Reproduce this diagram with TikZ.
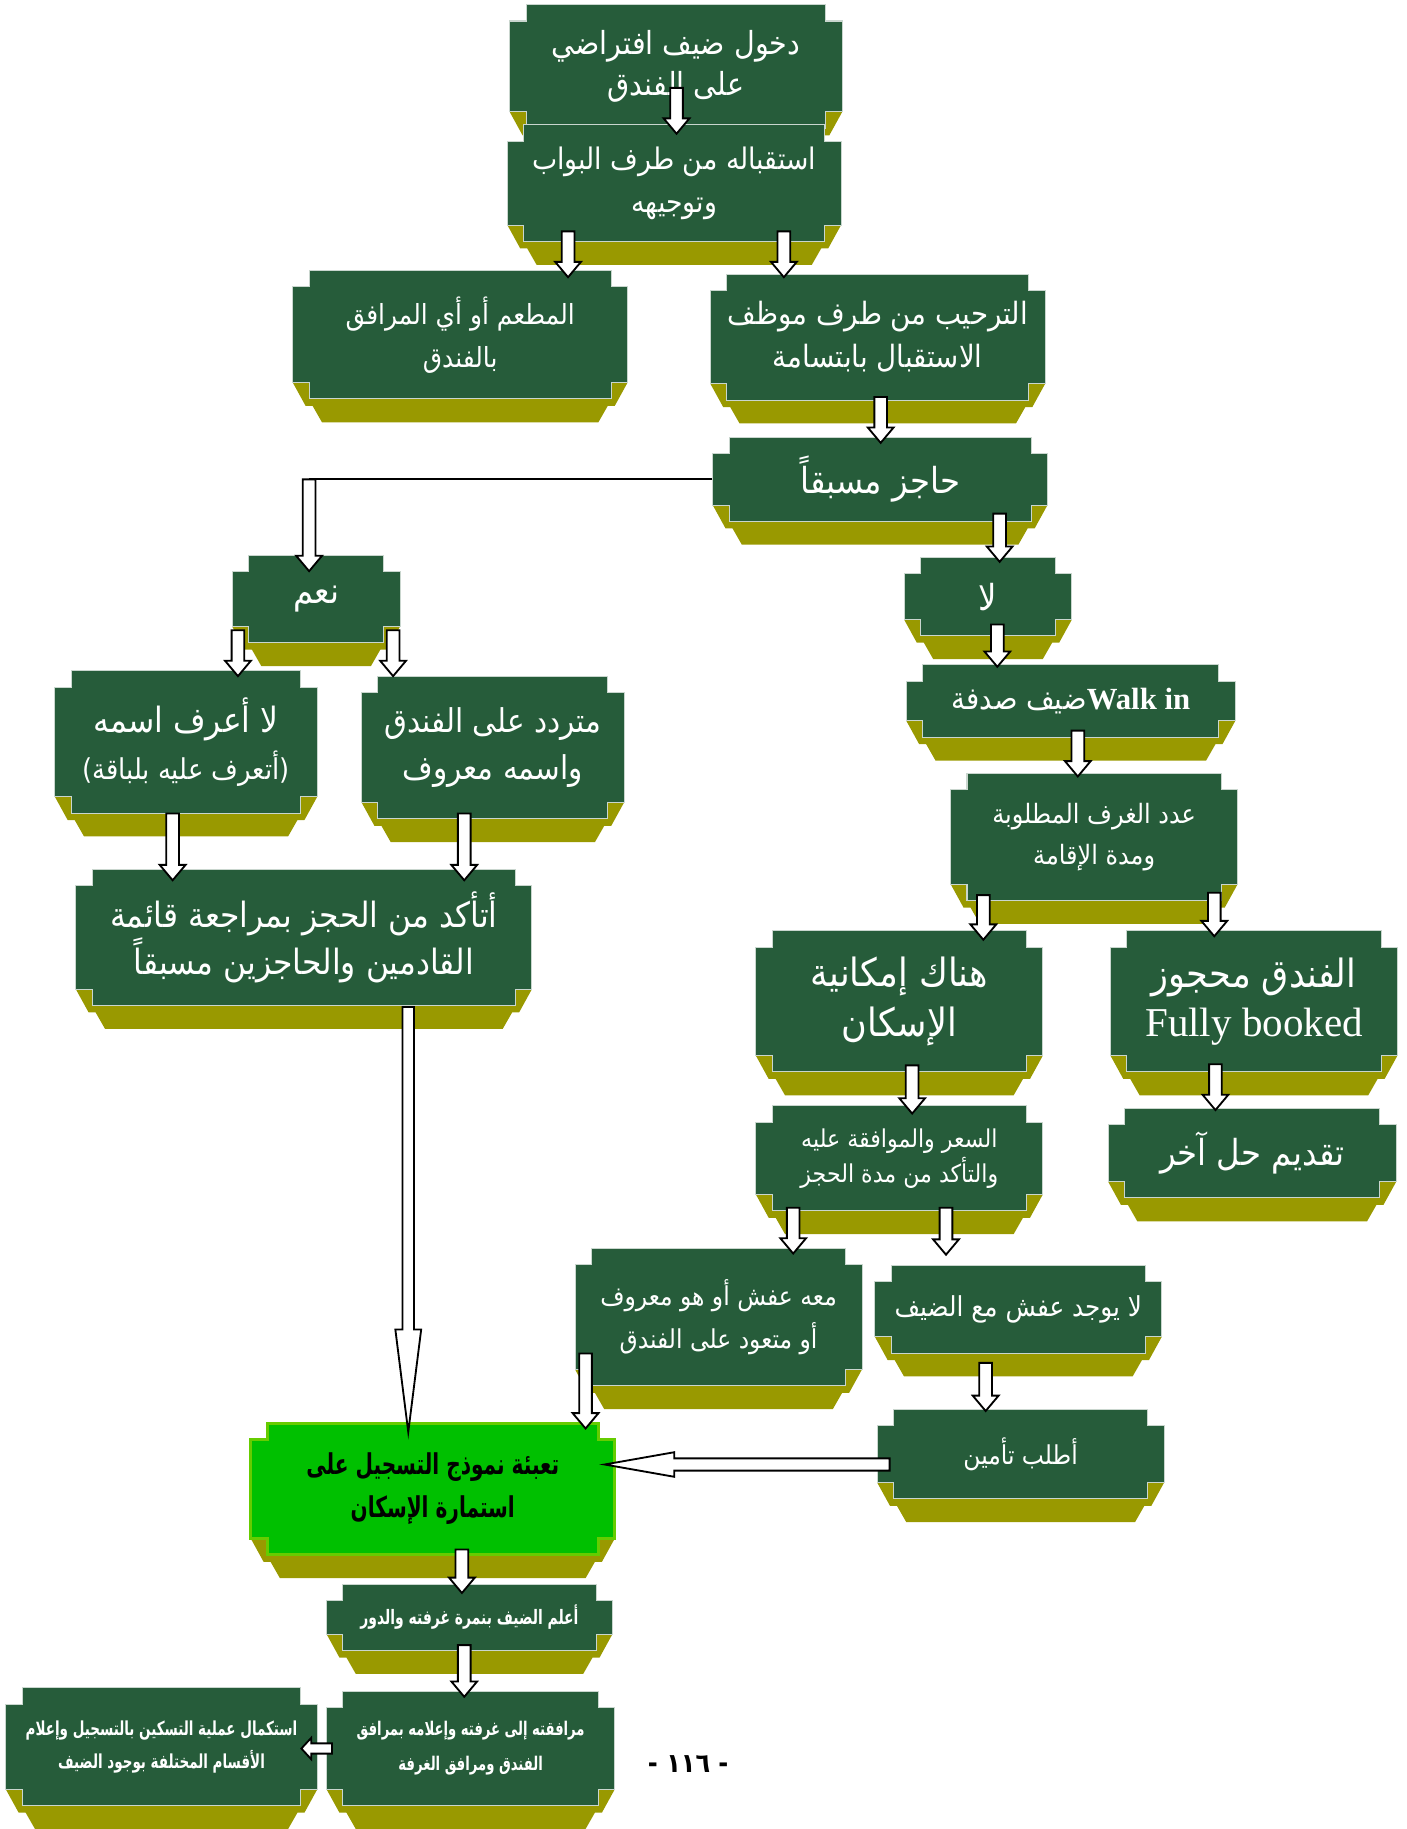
\documentclass[tikz,border=0pt]{standalone}
\usepackage{fontspec}
\usepackage{tikz}
\usetikzlibrary{calc}
\newfontfamily\arabicfont[Script=Arabic,FakeStretch=0.9]{DejaVu Sans}
\newfontfamily\arabicnarrow[Script=Arabic,FakeStretch=0.7]{DejaVu Sans}
\newfontfamily\latinfont{Liberation Serif}
\TeXXeTstate=1
\definecolor{marble}{RGB}{38,92,58}
\definecolor{olivebase}{RGB}{153,153,0}
\definecolor{brightgreen}{RGB}{0,192,0}
\definecolor{limeedge}{RGB}{102,204,0}
\newcommand\artext[1]{\beginR #1\endR}
% caixa: [estilo]{nome}{xL}{yT}{xR}{yB}{estilo do texto}{texto}
\newcommand\plaque[8][]{%
  \fill[plaqueside] (#3,#6-14) -- (#3+11,#6+6) -- (#3+17,#6+6) -- (#3+25,#6+20)
    -- (#5-25,#6+20) -- (#5-17,#6+6) -- (#5-11,#6+6) -- (#5,#6-14) -- cycle;
  \path[plaquebody,#1] (#3+14,#4) -- (#5-14,#4) -- (#5-14,#4+14) -- (#5,#4+14)
    -- (#5,#6-14) -- (#5-14,#6-14) -- (#5-14,#6) -- (#3+14,#6) -- (#3+14,#6-14)
    -- (#3,#6-14) -- (#3,#4+14) -- (#3+14,#4+14) -- cycle;
  \node[boxtext,#7,minimum width={(#5-#3)*0.02cm},minimum height={(#6-#4)*0.02cm}]
    (#2) at ({(#3+#5)/2},{(#4+#6)/2}) {#8};}
% seta larga: {de}{para}{meia haste}{meia ponta}{comprimento da ponta}
\newcommand\blkarrow[5]{%
  \path #1 coordinate (ba-s) #2 coordinate (ba-e);
  \path ($(ba-e)!#5!(ba-s)$) coordinate (ba-h);
  \draw[blockarrow] ($(ba-s)!#3!90:(ba-e)$) -- ($(ba-h)!#3!90:(ba-e)$)
    -- ($(ba-h)!#4!90:(ba-e)$) -- (ba-e) -- ($(ba-h)!#4!-90:(ba-e)$)
    -- ($(ba-h)!#3!-90:(ba-e)$) -- ($(ba-s)!#3!-90:(ba-e)$) -- cycle;}
% seta vertical: {origem}{destino}{x}{subida}{descida}
\newcommand\vlink[5]{%
  \coordinate (vl-x) at (#3,0);
  \blkarrow{($(#1.south -| vl-x)+(0,{-(#4)})$)}{($(#2.north -| vl-x)+(0,#5)$)}{3.1pt}{6.3pt}{7.5pt}}
\tikzset{
  plaquebody/.style={fill=marble, draw=white!75!marble, line width=0.5pt},
  plaqueside/.style={fill=olivebase},
  boxtext/.style={text=white, align=center, inner sep=0pt},
  fs/.style 2 args={font=\arabicfont\fontsize{#1}{#2}\selectfont},
  bs/.style 2 args={font=\arabicnarrow\bfseries\fontsize{#1}{#2}\selectfont},
  keybox/.style={fill=brightgreen, draw=limeedge, line width=1.5pt},
  blockarrow/.style={draw=black, fill=white, line width=0.9pt, line join=miter},
  guide/.style={draw=black, line width=0.9pt}
}
\begin{document}
\begin{tikzpicture}[x=0.02cm, y=-0.02cm]
  \useasboundingbox (0,0) rectangle (1206,1568);
  % Caixas
  \plaque{entry}{437}{4}{722}{110}{fs={15.5}{20}}{\artext{دخول ضيف افتراضي}\\\artext{على الفندق}}
  \plaque{recep}{435}{107}{721}{207}{fs={14.5}{21}}{\artext{استقباله من طرف البواب}\\\artext{وتوجيهه}}
  \plaque{mataam}{251}{232}{538}{342}{fs={13.5}{21}}{\artext{المطعم أو أي المرافق}\\\artext{بالفندق}}
  \plaque{tarhib}{609}{235}{896}{343}{fs={15}{21}}{\artext{الترحيب من طرف موظف}\\\artext{الاستقبال بابتسامة}}
  \plaque{hajez}{611}{375}{898}{447}{fs={17.5}{21}}{\artext{حاجز مسبقاً}}
  \plaque{naam}{199}{476}{343}{551}{fs={17.5}{21}}{\artext{نعم}}
  \plaque{laa}{775}{478}{919}{545}{fs={17.5}{21}}{\artext{لا}}
  \plaque{walkin}{777}{570}{1059}{632}{fs={15}{21}}{\beginR\beginL{\latinfont\bfseries\fontsize{15}{21}\selectfont Walk in}\endL ضيف صدفة\endR}
  \plaque{unknown}{47}{575}{272}{697}{fs={17}{23}}{\artext{لا أعرف اسمه}\\{\fontsize{14}{21}\selectfont\artext{(أتعرف عليه  بلباقة)}}}
  \plaque{hesitant}{310}{580}{535}{702}{fs={16}{23}}{\artext{متردد على الفندق}\\\artext{واسمه معروف}}
  \plaque{rooms}{815}{663}{1061}{772}{fs={13}{20}}{\artext{عدد الغرف المطلوبة}\\\artext{ومدة الإقامة}}
  \plaque{verify}{65}{745}{456}{862}{fs={17}{20}}{\artext{أتأكد من الحجز بمراجعة قائمة}\\\artext{القادمين والحاجزين مسبقاً}}
  \plaque{possible}{648}{798}{894}{919}{fs={19}{24}}{\artext{هناك إمكانية}\\\artext{الإسكان}}
  \plaque{booked}{952}{798}{1198}{919}{fs={19}{24}}{\artext{الفندق محجوز}\\{\latinfont\fontsize{20}{24}\selectfont Fully booked}}
  \plaque{price}{648}{948}{894}{1038}{fs={12}{17}}{\artext{السعر والموافقة عليه}\\\artext{والتأكد من مدة الحجز}}
  \plaque{other}{950}{950}{1197}{1027}{fs={17.5}{21}}{\artext{تقديم حل آخر}}
  \plaque{luggage}{493}{1070}{739}{1188}{fs={12.7}{21}}{\artext{معه عفش أو هو معروف}\\\artext{أو متعود على الفندق}}
  \plaque{noluggage}{750}{1085}{996}{1160}{fs={13.4}{20}}{\artext{لا يوجد عفش مع الضيف}}
  \plaque{deposit}{752}{1208}{998}{1285}{fs={12.7}{20}}{\artext{أطلب تأمين}}
  \plaque[keybox]{regform}{215}{1220}{527}{1333}{bs={14}{21},text=black}{\artext{تعبئة نموذج التسجيل على}\\\artext{استمارة الإسكان}}
  \plaque{roomno}{280}{1358}{525}{1415}{bs={9.7}{16}}{\artext{أعلم الضيف بنمرة غرفته والدور}}
  \plaque{escort}{280}{1450}{527}{1548}{bs={9.2}{17}}{\artext{مرافقته إلى غرفته وإعلامه بمرافق}\\\artext{الفندق ومرافق الغرفة}}
  \plaque{complete}{5}{1447}{272}{1548}{bs={9.4}{16}}{\artext{استكمال عملية التسكين بالتسجيل وإعلام}\\\artext{الأقسام المختلفة بوجود الضيف}}
  % Numero da pagina
  \node[font=\arabicfont\bfseries\fontsize{13}{13}\selectfont] (pageno) at (590,1512) {- ١١٦ -};
  % Setas
  \vlink{entry}{recep}{580}{35}{8}
  \vlink{recep}{mataam}{487}{9}{6}
  \vlink{recep}{tarhib}{672}{9}{3}
  \vlink{tarhib}{hajez}{755}{3}{5}
  \vlink{hajez}{laa}{857}{7}{4}
  \coordinate (yesx) at (265,0);
  \coordinate (yesturn) at (hajez.west -| yesx);
  \draw[guide] (hajez.west) -- (yesturn);
  \blkarrow{(yesturn)}{($(naam.north -| yesx)+(0,14)$)}{3.1pt}{6.3pt}{7.5pt}
  \vlink{naam}{unknown}{204}{11}{5}
  \vlink{naam}{hesitant}{337}{11}{0}
  \vlink{unknown}{verify}{148}{0}{10}
  \vlink{hesitant}{verify}{398}{5}{10}
  \coordinate (longx) at (350,0);
  \blkarrow{($(verify.south -| longx)+(0,1)$)}{($(regform.north -| longx)+(0,8)$)}{2.8pt}{6.3pt}{50pt}
  \vlink{laa}{walkin}{855}{10}{2}
  \vlink{walkin}{rooms}{924}{6}{3}
  \vlink{rooms}{possible}{843}{5}{8}
  \vlink{rooms}{booked}{1041}{7}{5}
  \vlink{possible}{price}{782}{6}{7}
  \vlink{booked}{other}{1042}{7}{2}
  \vlink{price}{luggage}{680}{3}{5}
  \vlink{price}{noluggage}{811}{3}{-9}
  \vlink{luggage}{regform}{502}{28}{5}
  \vlink{noluggage}{deposit}{845}{-8}{2}
  \blkarrow{($(deposit.west)+(11,9)$)}{($(regform.east |- deposit.west)+(-9,9)$)}{3pt}{6pt}{34pt}
  \vlink{regform}{roomno}{396}{5}{8}
  \vlink{roomno}{escort}{398}{5}{5}
  \blkarrow{($(escort.west)+(5,0)$)}{($(complete.east |- escort.west)+(-14,0)$)}{2.5pt}{5.2pt}{4.8pt}
\end{tikzpicture}
\end{document}
